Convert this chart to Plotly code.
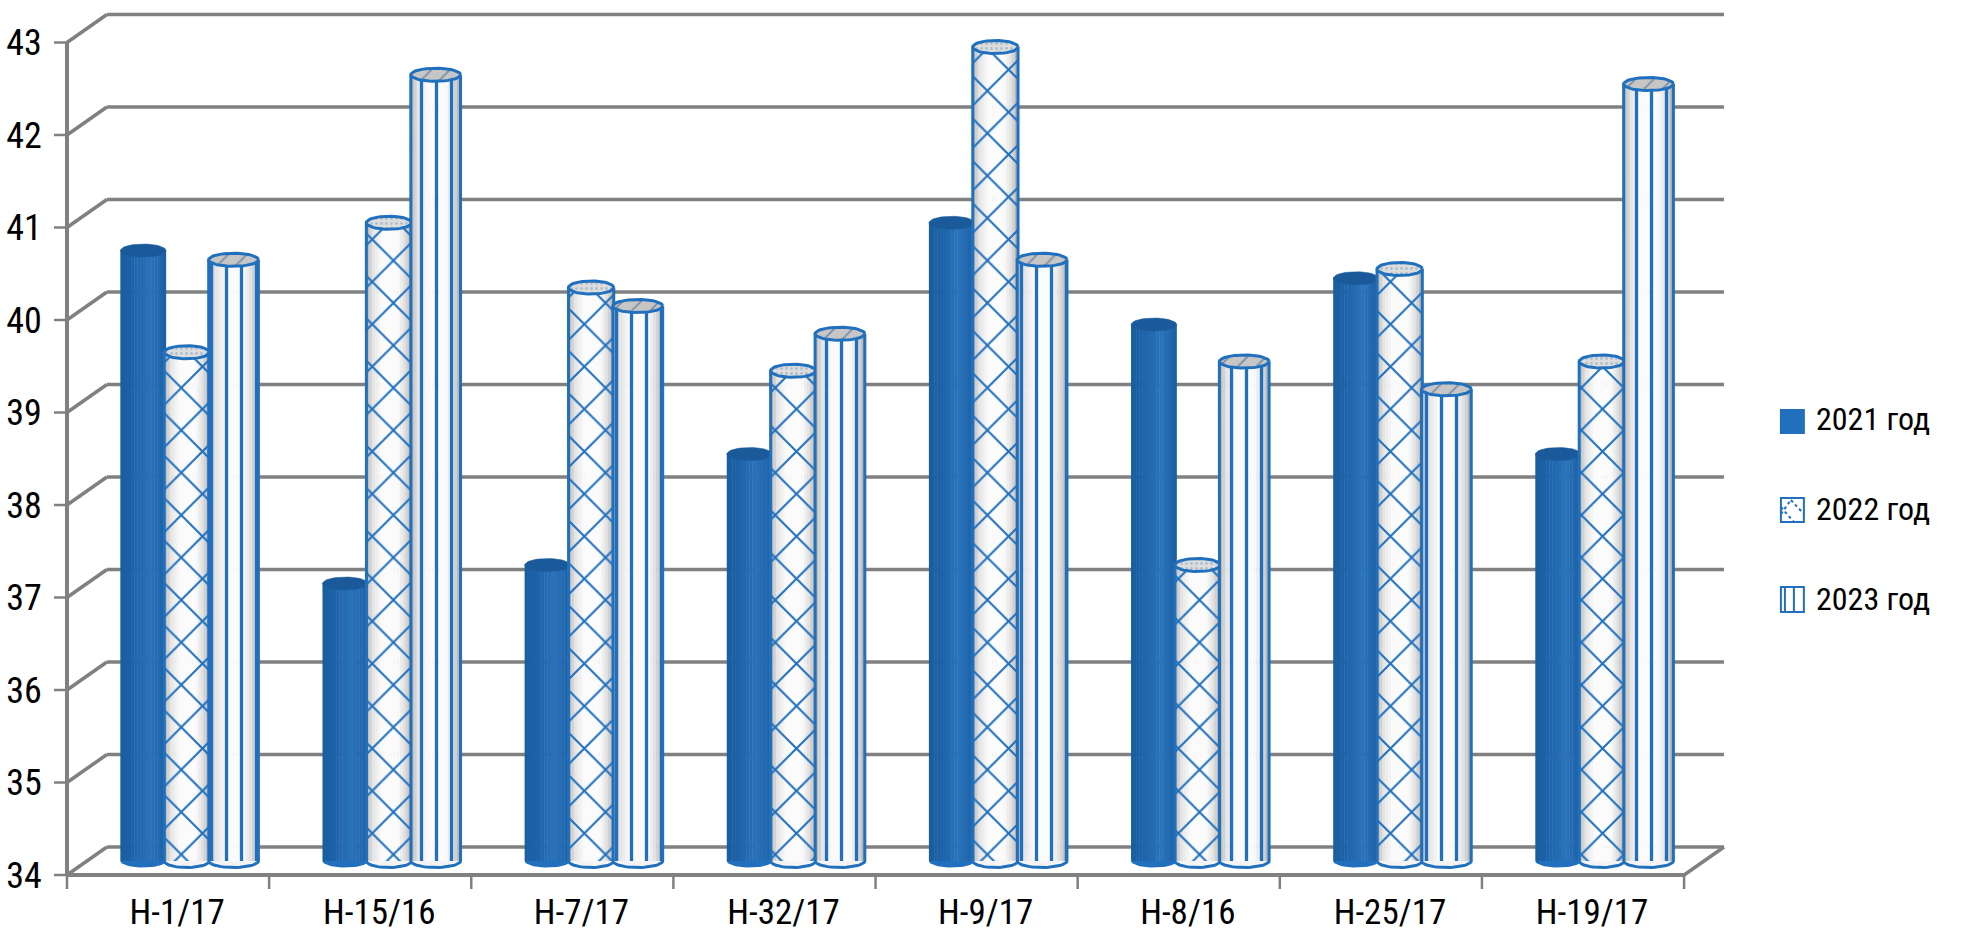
import numpy as np
import plotly.graph_objects as go

categories = ["Н-1/17", "Н-15/16", "Н-7/17", "Н-32/17", "Н-9/17", "Н-8/16", "Н-25/17", "Н-19/17"]
series_names = ["2021 год", "2022 год", "2023 год"]
values_2021 = [40.6, 37.0, 37.2, 38.4, 40.9, 39.8, 40.3, 38.4]
values_2022 = [39.5, 40.9, 40.2, 39.3, 42.8, 37.2, 40.4, 39.4]
values_2023 = [40.5, 42.5, 40.0, 39.7, 40.5, 39.4, 39.1, 42.4]
y_ticks = [34, 35, 36, 37, 38, 39, 40, 41, 42, 43]

W, H = 1961, 951
FONT = "Roboto Condensed, Roboto, sans-serif"
GRAY = "#808080"
BLUE = "#2070bd"

PX_X = 202.5          # pixels per category
PX_Y = 92.5           # pixels per value unit
X0_PX, Y0_PX = 64, 875
L_PX, R_PX = X0_PX - 13, X0_PX + 1670  # plot rectangle
T_PX, B_PX = 6, Y0_PX + 14
xr = [(L_PX - X0_PX) / PX_X, (R_PX - X0_PX) / PX_X]
yr = [34 + (Y0_PX - B_PX) / PX_Y, 34 + (Y0_PX - T_PX) / PX_Y]
DX, DY = 40 / PX_X, 28 / PX_Y    # depth of the 3-D box
SHIFT = 14 / PX_Y                # bars stand half way into the box
RY = 6.5 / PX_Y

xpos = np.arange(len(categories))
# centre offset and width of each cylinder within a category
geo = [(0.377, 0.226), (0.593, 0.224), (0.824, 0.246)]
values = [values_2021, values_2022, values_2023]

blue_stops = [(0, "#195d9f"), (0.25, "#1c62a8"), (0.65, "#2a72b9"), (0.85, "#2269b0"), (1, "#1b5fa2")]
white_stops = [(0, "#b4b4b4"), (0.15, "#e4e4e4"), (0.35, "#fbfbfb"), (0.7, "#fbfbfb"), (0.88, "#dcdcdc"), (1, "#a8a8a8")]
stops = [blue_stops, white_stops, white_stops]


def mix(st, t):
    for (a, ca), (b, cb) in zip(st, st[1:]):
        if t <= b:
            f = (t - a) / (b - a)
            rgb = [round(int(ca[i:i + 2], 16) * (1 - f) + int(cb[i:i + 2], 16) * f) for i in (1, 3, 5)]
            return "rgb(%d,%d,%d)" % tuple(rgb)
    return st[-1][1]


fig = go.Figure()
N = 16
top_fill = ["#1a5a9a", "#d8d8d8", "#c6c6c6"]
body_pattern = [None,
                dict(shape="x", size=30, solidity=0.13, fgcolor=BLUE, fgopacity=1, bgcolor="rgba(0,0,0,0)"),
                dict(shape="|", size=15, solidity=0.22, fgcolor=BLUE, fgopacity=1, bgcolor="rgba(0,0,0,0)")]
top_pattern = [None,
               dict(shape=".", size=5, solidity=0.25, fgcolor="#7f9fc0", bgcolor="#dddddd"),
               dict(shape="/", size=13, solidity=0.14, fgcolor="#33587f", bgcolor="#c6c6c6")]
base = 34 + SHIFT
theta_lo = np.linspace(np.pi, 2 * np.pi, 25)
theta_all = np.linspace(0, 2 * np.pi, 49)

for s, name in enumerate(series_names):
    v = np.array(values[s], dtype=float)
    off, wid = geo[s]
    heights = v - 34
    for k in range(N):
        sw = wid / N
        fig.add_trace(go.Bar(x=xpos, y=heights, base=base, width=sw * 1.15,
                             offset=off - wid / 2 + k * sw - (0.1 * sw if k else 0),
                             marker=dict(color=mix(stops[s], (k + 0.5) / N), line=dict(width=0)),
                             name=name, showlegend=False, hoverinfo="skip", zorder=s))
    if body_pattern[s]:
        fig.add_trace(go.Bar(x=xpos, y=heights, base=base, width=wid, offset=off - wid / 2,
                             marker=dict(color="rgba(0,0,0,0)", pattern=body_pattern[s], line=dict(width=0)),
                             name=name, showlegend=False, zorder=s))
    # lower rim, outline, top cap: all derived from the values above
    lox, loy, olx, oly, topx, topy = [], [], [], [], [], []
    for i, val in enumerate(v):
        c = i + off
        rx = wid / 2
        ax = c + rx * np.cos(theta_lo)
        ay = base + RY * np.sin(theta_lo)
        lox += list(ax) + [None]
        loy += list(ay) + [None]
        olx += [c - rx] + list(ax) + [c + rx, None]
        oly += [val + SHIFT] + list(ay) + [val + SHIFT, None]
        topx += list(c + rx * np.cos(theta_all)) + [None]
        topy += list(val + SHIFT + RY * np.sin(theta_all)) + [None]
    low_col = BLUE if s == 0 else "#f4f4f4"
    fig.add_trace(go.Scatter(x=lox, y=loy, mode="lines", fill="toself", fillcolor=low_col,
                             line=dict(width=0), showlegend=False, hoverinfo="skip", zorder=s))
    if s > 0:
        fig.add_trace(go.Scatter(x=olx, y=oly, mode="lines", line=dict(color=BLUE, width=3),
                                 showlegend=False, hoverinfo="skip", zorder=s))
    top_kw = dict(fillcolor=top_fill[s])
    if top_pattern[s]:
        top_kw["fillpattern"] = top_pattern[s]
    fig.add_trace(go.Scatter(x=topx, y=topy, mode="lines", fill="toself",
                             line=dict(color=BLUE if s else top_fill[s], width=3 if s else 0.5),
                             showlegend=False, hoverinfo="skip", zorder=s, **top_kw))

shapes = []


def seg(x0, y0, x1, y1, w=3.5):
    shapes.append(dict(type="line", xref="x", yref="y", x0=x0, y0=y0, x1=x1, y1=y1,
                       layer="below", line=dict(color=GRAY, width=w)))


n = len(categories)
for t in y_ticks:
    seg(xr[0], t, 0, t, 2.5)          # tick
    seg(0, t, DX, t + DY)             # left wall
    seg(DX, t + DY, n + DX, t + DY)   # back wall
seg(0, 34, 0, 43, 4)                  # value axis
seg(0, 34, n, 34, 4)                  # category axis
seg(n, 34, n + DX, 34 + DY)           # floor right edge
for i in range(n + 1):
    seg(i, 34, i, yr[0], 2.5)


def px(xp):
    return (xp - L_PX) / (R_PX - L_PX)


def py(yp):
    return (B_PX - yp) / (B_PX - T_PX)


def leg_rect(x0, y0, x1, y1, fill, line):
    shapes.append(dict(type="rect", xref="paper", yref="paper", x0=px(x0), x1=px(x1), y0=py(y0), y1=py(y1),
                       fillcolor=fill, line=dict(color=line, width=2)))


def leg_line(x0, y0, x1, y1, w=2, dash="solid"):
    shapes.append(dict(type="line", xref="paper", yref="paper", x0=px(x0), x1=px(x1), y0=py(y0), y1=py(y1),
                       line=dict(color=BLUE, width=w, dash=dash)))


LX = X0_PX + 1717
leg_rect(LX, 410, LX + 23, 433, BLUE, BLUE)
leg_rect(LX, 498, LX + 23, 522, "white", BLUE)
leg_line(LX, 514, LX + 10, 500, 2, "dot")
leg_line(LX, 507, LX + 13, 522, 2, "dot")
leg_line(LX + 10, 500, LX + 23, 514, 2, "dot")
leg_rect(LX, 587, LX + 23, 612, "white", BLUE)
leg_line(LX + 4, 587, LX + 4, 612, 2)
leg_line(LX + 13, 587, LX + 13, 612, 2)

annotations = [dict(xref="paper", yref="paper", x=px(LX + 33), y=py(yc), xanchor="left", yanchor="middle",
                    text=t, showarrow=False, font=dict(family=FONT, size=32, color="black"))
               for t, yc in zip(series_names, [419, 509, 599])]

fig.update_layout(
    width=W, height=H, autosize=False,
    margin=dict(l=L_PX, r=W - R_PX, t=T_PX, b=H - B_PX, pad=0),
    paper_bgcolor="white", plot_bgcolor="white",
    barmode="overlay", showlegend=False,
    font=dict(family=FONT, size=34, color="black"),
    shapes=shapes, annotations=annotations,
    xaxis=dict(range=xr, tickmode="array", tickvals=list(xpos + 0.545), ticktext=categories,
               ticks="", ticklabelstandoff=-1, showgrid=False, zeroline=False,
               showline=False, tickfont=dict(family=FONT, size=35)),
    yaxis=dict(range=yr, tickmode="array", tickvals=y_ticks, ticktext=[str(t) for t in y_ticks],
               ticks="outside", ticklen=4, tickcolor="rgba(0,0,0,0)", showgrid=False, zeroline=False,
               showline=False, tickfont=dict(family=FONT, size=36)),
)

fig.write_html("out.html", config=dict(displayModeBar=False),
               post_script="document.body.style.margin='0';document.documentElement.style.overflow='hidden';")
